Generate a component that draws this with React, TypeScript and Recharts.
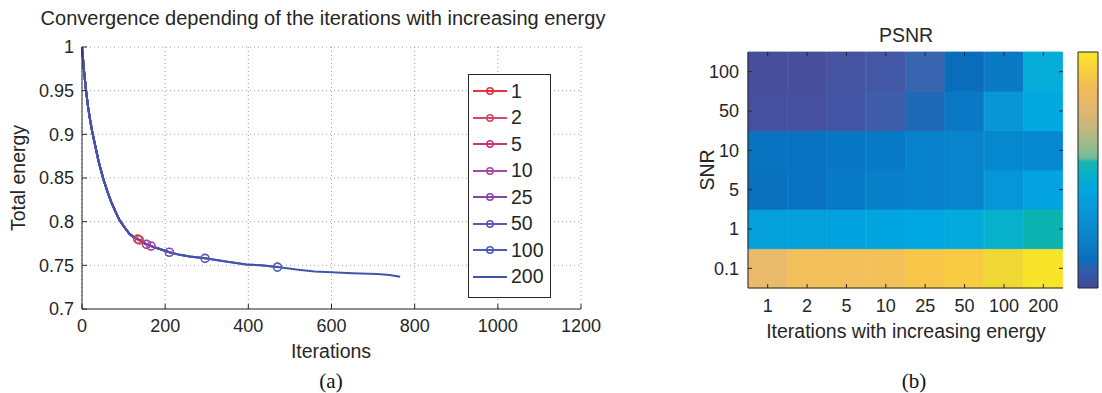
import React from "react";
import { LineChart, Line, XAxis, YAxis, CartesianGrid, Legend, BarChart, Bar, Cell } from "recharts";

// ---- (a) convergence curve ----
const ITERATIONS = [0, 5, 10, 15, 20, 25, 30, 40, 50, 60, 70, 80, 90, 100, 114, 125, 134, 138, 145, 155, 166, 185, 210, 235, 259, 296, 350, 395, 430, 470, 520, 560, 600, 650, 690, 710, 740, 765];
const TOTAL_ENERGY = [1.0, 0.972, 0.949, 0.93, 0.915, 0.902, 0.891, 0.869, 0.851, 0.836, 0.823, 0.812, 0.802, 0.795, 0.786, 0.782, 0.78, 0.779, 0.777, 0.774, 0.772, 0.769, 0.765, 0.762, 0.76, 0.758, 0.754, 0.751, 0.75, 0.748, 0.745, 0.743, 0.742, 0.741, 0.7405, 0.74, 0.739, 0.737];
const SERIES_LABELS = ["1", "2", "5", "10", "25", "50", "100", "200"];
const SERIES_END = [134, 138, 155, 166, 210, 296, 470, 765];
const SERIES_COLORS = ["#e4323e", "#d6466a", "#c2367e", "#a34aa2", "#8747a8", "#6a52ae", "#4a5db5", "#3f55ad"];
const X_TICKS = [0, 200, 400, 600, 800, 1000, 1200];
const Y_TICKS = [0.7, 0.75, 0.8, 0.85, 0.9, 0.95, 1];

// ---- (b) PSNR heat map (cell colours, row by row, top to bottom) ----
const ITER_LABELS = ["1", "2", "5", "10", "25", "50", "100", "200"];
const SNR_LABELS = ["100", "50", "10", "5", "1", "0.1"];
const PSNR_SNR100 = ["#474e9b", "#474e9b", "#4553a0", "#4258a6", "#3864b0", "#0a6dbb", "#0a7ac5", "#05add8"];
const PSNR_SNR50 = ["#4551a0", "#4551a0", "#4356a5", "#3e5caa", "#1f68b8", "#0a78c4", "#0896d6", "#02a9e1"];
const PSNR_SNR10 = ["#0873c0", "#0873c0", "#0878c4", "#077bc6", "#0782cb", "#0784cc", "#0688cf", "#0688d0"];
const PSNR_SNR5 = ["#0870bd", "#0873c0", "#077ac5", "#0780c9", "#0782cb", "#0784cc", "#0596d8", "#03a3df"];
const PSNR_SNR1 = ["#03a0dc", "#03a0dc", "#02a2de", "#01a6e0", "#00a8e2", "#03aadc", "#07b1cc", "#0bb2b0"];
const PSNR_SNR01 = ["#e8ba6a", "#f2c05a", "#f2c05a", "#f2c258", "#f8c648", "#f8cb42", "#efd834", "#f8e52a"];
const CBAR_TICKS = [0.089, 0.246, 0.403, 0.557, 0.714, 0.869];

const INK = "#262626";
const FONT = "'Liberation Sans', Arial, sans-serif";
const TICK_SIZE = 18;
const LABEL_SIZE = 19.5;

const ROWS_BOTTOM_UP = [PSNR_SNR01, PSNR_SNR1, PSNR_SNR5, PSNR_SNR10, PSNR_SNR50, PSNR_SNR100];
const SNR_BOTTOM_UP = [...SNR_LABELS].reverse();

const lineData = ITERATIONS.map((it, i) => {
  const row: any = { it };
  SERIES_LABELS.forEach((_, k) => {
    row["s" + k] = it <= SERIES_END[k] ? TOTAL_ENERGY[i] : null;
  });
  return row;
});

const heatData = ITER_LABELS.map((lab) => {
  const row: any = { lab };
  ROWS_BOTTOM_UP.forEach((_, r) => (row["r" + r] = 1));
  return row;
});

function fmtEnergy(v: number) {
  return String(Number(v.toFixed(2)));
}

// matlab style: labels outside, tick marks inside
function BottomTick(props: any) {
  const { x, y, payload, gap, inner, topAt, fmt } = props;
  const axisY = y - gap;
  return (
    <g>
      <line x1={x} x2={x} y1={axisY} y2={axisY - inner} stroke={INK} />
      {topAt !== undefined && <line x1={x} x2={x} y1={axisY - topAt} y2={axisY - topAt + inner} stroke={INK} />}
      <text x={x} y={y} dy="0.71em" textAnchor="middle" fontSize={TICK_SIZE} fill={INK} fontFamily={FONT}>
        {fmt ? fmt(payload.value) : payload.value}
      </text>
    </g>
  );
}

function LeftTick(props: any) {
  const { x, y, payload, gap, inner, rightAt, fmt } = props;
  const axisX = x + gap;
  return (
    <g>
      <line x1={axisX} x2={axisX + inner} y1={y} y2={y} stroke={INK} />
      {rightAt !== undefined && <line x1={axisX + rightAt} x2={axisX + rightAt - inner} y1={y} y2={y} stroke={INK} />}
      <text x={x} y={y} dy="0.355em" textAnchor="end" fontSize={TICK_SIZE} fill={INK} fontFamily={FONT}>
        {fmt ? fmt(payload.value) : payload.value}
      </text>
    </g>
  );
}

function CbarTick(props: any) {
  const { x, y } = props;
  return (
    <g>
      <line x1={x} x2={x + 4} y1={y} y2={y} stroke={INK} />
      <line x1={x + 20} x2={x + 16} y1={y} y2={y} stroke={INK} />
    </g>
  );
}

function Txt({ x, y, size = LABEL_SIZE, rotate = false, serif = false, children }: any) {
  return (
    <div
      style={{
        position: "absolute",
        left: x,
        top: y,
        transform: `translate(-50%, -50%)${rotate ? " rotate(-90deg)" : ""}`,
        whiteSpace: "nowrap",
        fontSize: size,
        color: serif ? "#111" : INK,
        fontFamily: serif ? "'Liberation Serif', 'DejaVu Serif', serif" : FONT,
        lineHeight: 1,
      }}
    >
      {children}
    </div>
  );
}

const renderLegend = () => (
  <div
    style={{
      width: 83,
      height: 224,
      boxSizing: "border-box",
      border: `1.5px solid ${INK}`,
      background: "#fff",
      fontFamily: FONT,
      fontSize: LABEL_SIZE,
      color: INK,
      paddingTop: 3,
    }}
  >
    {SERIES_LABELS.map((s, k) => (
      <div key={s} style={{ display: "flex", alignItems: "center", height: 26.5, lineHeight: 1 }}>
        <svg width={42} height={12} style={{ flex: "none" }}>
          <line x1={4} x2={38} y1={6} y2={6} stroke={SERIES_COLORS[k]} strokeWidth={2} />
          {k < SERIES_LABELS.length - 1 && (
            <circle cx={21} cy={6} r={3.2} fill="none" stroke={SERIES_COLORS[k]} strokeWidth={1.5} />
          )}
        </svg>
        <span>{s}</span>
      </div>
    ))}
  </div>
);

export default function App() {
  return (
    <div style={{ position: "absolute", left: 0, top: 0, width: 1102, height: 393, background: "#fff", overflow: "hidden" }}>
      {/* (a) */}
      <div style={{ position: "absolute", left: 0, top: 0 }}>
        <LineChart width={620} height={393} data={lineData} margin={{ top: 47, right: 39, bottom: 54, left: 30 }}>
          <CartesianGrid stroke="#8a8a8a" strokeDasharray="1 3" strokeWidth={0.8} />
          <XAxis
            dataKey="it"
            type="number"
            domain={[0, 1200]}
            ticks={X_TICKS}
            height={30}
            tickSize={0}
            tickMargin={10}
            axisLine={{ stroke: INK }}
            tickLine={false}
            tick={(p: any) => <BottomTick {...p} gap={10} inner={5} />}
            interval={0}
          />
          <YAxis
            type="number"
            domain={[0.7, 1]}
            ticks={Y_TICKS}
            width={52}
            tickSize={0}
            tickMargin={8}
            axisLine={{ stroke: INK }}
            tickLine={false}
            tick={(p: any) => <LeftTick {...p} gap={8} inner={5} fmt={fmtEnergy} />}
            interval={0}
            allowDataOverflow
          />
          {SERIES_LABELS.map((s, k) => {
            const last = ITERATIONS.indexOf(SERIES_END[k]);
            const withMarker = k < SERIES_LABELS.length - 1;
            return (
              <Line
                key={s}
                type="linear"
                dataKey={"s" + k}
                name={s}
                stroke={SERIES_COLORS[k]}
                strokeWidth={2}
                isAnimationActive={false}
                connectNulls={false}
                dot={(p: any) =>
                  withMarker && p.index === last ? (
                    <circle key={`d${k}`} cx={p.cx} cy={p.cy} r={4} fill="none" stroke={SERIES_COLORS[k]} strokeWidth={1.6} />
                  ) : (
                    <g key={`d${k}-${p.index}`} />
                  )
                }
                activeDot={false}
              />
            );
          })}
          <Legend
            layout="vertical"
            align="center"
            verticalAlign="middle"
            content={renderLegend}
            wrapperStyle={{ left: 468, top: 74, width: 83, height: 224 }}
          />
        </LineChart>
      </div>
      <Txt x={323} y={18} size={20}>Convergence depending of the iterations with increasing energy</Txt>
      <Txt x={19} y={178} rotate>Total energy</Txt>
      <Txt x={331} y={352}>Iterations</Txt>
      <Txt x={331} y={381} size={21} serif>(a)</Txt>

      {/* (b) */}
      <div style={{ position: "absolute", left: 680, top: 0 }}>
        <BarChart width={420} height={393} data={heatData} margin={{ top: 52, right: 37, bottom: 75, left: 28 }} barCategoryGap={0} barGap={0}>
          <XAxis
            dataKey="lab"
            height={30}
            tickSize={0}
            tickMargin={11}
            axisLine={{ stroke: INK }}
            tickLine={false}
            interval={0}
            tick={(p: any) => <BottomTick {...p} gap={11} inner={4} topAt={236} />}
          />
          <XAxis xAxisId="top" dataKey="lab" orientation="top" height={0} tick={false} tickLine={false} axisLine={{ stroke: INK }} />
          <YAxis
            type="number"
            domain={[0, 6]}
            ticks={[0.5, 1.5, 2.5, 3.5, 4.5, 5.5]}
            width={40}
            tickSize={0}
            tickMargin={9}
            axisLine={{ stroke: INK }}
            tickLine={false}
            interval={0}
            tick={(p: any) => <LeftTick {...p} gap={9} inner={4} rightAt={315} fmt={(v: number) => SNR_BOTTOM_UP[Math.floor(v)]} />}
          />
          <YAxis yAxisId="right" orientation="right" domain={[0, 6]} width={0} tick={false} tickLine={false} axisLine={{ stroke: INK }} />
          {ROWS_BOTTOM_UP.map((colors, r) => (
            <Bar key={r} dataKey={"r" + r} stackId="cells" isAnimationActive={false}>
              {colors.map((c, i) => (
                <Cell key={i} fill={c} stroke={c} strokeWidth={0.8} />
              ))}
            </Bar>
          ))}
        </BarChart>
      </div>
      <div style={{ position: "absolute", left: 1070, top: 0 }}>
        <BarChart width={32} height={393} data={[{ v: 1 }]} margin={{ top: 52, right: 4, bottom: 105, left: 8 }} barCategoryGap={0}>
          <defs>
            <linearGradient id="parula" x1="0" y1="0" x2="0" y2="1">
              <stop offset="0" stopColor="#f9e82a" />
              <stop offset="0.08" stopColor="#f8cf3e" />
              <stop offset="0.15" stopColor="#f2bb58" />
              <stop offset="0.25" stopColor="#e0b670" />
              <stop offset="0.33" stopColor="#c0b880" />
              <stop offset="0.4" stopColor="#98bc8c" />
              <stop offset="0.45" stopColor="#70bc98" />
              <stop offset="0.465" stopColor="#1ab4b0" />
              <stop offset="0.52" stopColor="#08b0c8" />
              <stop offset="0.58" stopColor="#02a6e0" />
              <stop offset="0.68" stopColor="#0896d8" />
              <stop offset="0.8" stopColor="#0a80c8" />
              <stop offset="0.88" stopColor="#0a6ebc" />
              <stop offset="0.92" stopColor="#2e5eaa" />
              <stop offset="1" stopColor="#43489a" />
            </linearGradient>
          </defs>
          <XAxis hide />
          <YAxis
            domain={[0, 1]}
            ticks={CBAR_TICKS}
            width={0}
            tickSize={0}
            tickMargin={0}
            axisLine={false}
            tickLine={false}
            interval={0}
            tick={(p: any) => <CbarTick {...p} />}
          />
          <Bar dataKey="v" fill="url(#parula)" stroke={INK} strokeWidth={1} isAnimationActive={false} />
        </BarChart>
      </div>
      <Txt x={906} y={36}>PSNR</Txt>
      <Txt x={708} y={170} rotate>SNR</Txt>
      <Txt x={906} y={332}>Iterations with increasing energy</Txt>
      <Txt x={914} y={381} size={21} serif>(b)</Txt>
    </div>
  );
}
